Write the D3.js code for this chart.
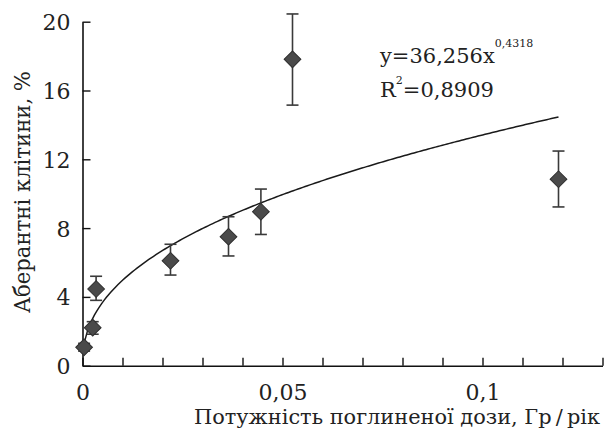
<!DOCTYPE html>
<html>
<head>
<meta charset="utf-8">
<script src="https://cdn.jsdelivr.net/npm/d3@7"></script>
<style>
  html, body { margin: 0; padding: 0; background: #fff; }
  svg { display: block; }
  text { font-family: "DejaVu Serif", "Liberation Serif", serif; fill: #222; }
</style>
</head>
<body>
<svg id="chart" width="604" height="434"></svg>
<script>
// Dose rate (Gy/year) and share of aberrant cells (%)
const doseRate  = [0.0004, 0.00255, 0.0034, 0.022, 0.0365, 0.0446, 0.0525, 0.119];
const aberrant  = [1.07, 2.21, 4.46, 6.10, 7.50, 8.95, 17.81, 10.84];
const errUpper  = [1.30, 2.56, 5.20, 7.06, 8.66, 10.27, 20.45, 12.48];
const errLower  = [0.85, 1.83, 3.80, 5.27, 6.38, 7.63, 15.15, 9.23];

// Power trendline y = a * x^b
const fitCoef = 36.256;
const fitExp = 0.4318;
const fitRange = [0.0006, 0.119];

const yTicks = [0, 4, 8, 12, 16, 20];
const xTickValues = d3.range(0, 0.1301, 0.01);
const xLabelled = [0, 0.05, 0.1];

const svg = d3.select("#chart");
const x = d3.scaleLinear().domain([0, 0.13]).range([82.5, 602.5]);
const y = d3.scaleLinear().domain([0, 20]).range([365.7, 21.7]);

const fmt = v => (v === 0 ? "0" : String(+v.toFixed(2)).replace(".", ","));

// X axis: inward ticks every 0.01, labels at 0, 0.05, 0.1
const xAxis = svg.append("g")
  .attr("transform", `translate(0,${y(0)})`)
  .call(d3.axisBottom(x).tickValues(xTickValues).tickSizeInner(-8).tickSizeOuter(0)
    .tickFormat(d => xLabelled.some(v => Math.abs(v - d) < 1e-9) ? fmt(d) : ""));
xAxis.select(".domain").attr("stroke", "#111").attr("stroke-width", 1.6);
xAxis.selectAll(".tick line").attr("stroke", "#111").attr("stroke-width", 1.4);
xAxis.selectAll(".tick text").attr("font-size", 22).attr("font-family", "DejaVu Serif")
  .attr("fill", "#222").attr("y", 34).attr("dy", 0);

// Y axis: inward ticks
const yAxis = svg.append("g")
  .attr("transform", `translate(${x(0)},0)`)
  .call(d3.axisLeft(y).tickValues(yTicks).tickSizeInner(-8).tickSizeOuter(0).tickFormat(d => d));
yAxis.select(".domain").attr("stroke", "#111").attr("stroke-width", 1.6);
yAxis.selectAll(".tick line").attr("stroke", "#111").attr("stroke-width", 1.4);
yAxis.selectAll(".tick text").attr("font-size", 22).attr("font-family", "DejaVu Serif")
  .attr("fill", "#222").attr("x", -12).attr("dy", "0.36em");

// Trendline
const fitX = d3.range(fitRange[0], fitRange[1] + 1e-9, (fitRange[1] - fitRange[0]) / 200);
svg.append("path")
  .datum(fitX)
  .attr("fill", "none")
  .attr("stroke", "#1a1a1a")
  .attr("stroke-width", 1.5)
  .attr("d", d3.line().x(d => x(d)).y(d => y(fitCoef * Math.pow(d, fitExp))));

// Error bars
const bars = svg.append("g").attr("stroke", "#3a3a3a").attr("stroke-width", 1.6);
doseRate.forEach((d, i) => {
  bars.append("line").attr("x1", x(d)).attr("x2", x(d)).attr("y1", y(errUpper[i])).attr("y2", y(errLower[i]));
  [errUpper[i], errLower[i]].forEach(v => {
    bars.append("line").attr("x1", x(d) - 6).attr("x2", x(d) + 6).attr("y1", y(v)).attr("y2", y(v));
  });
});

// Diamond markers
const diamond = d3.symbol().type(d3.symbolSquare).size(140);
svg.append("g").selectAll("path")
  .data(doseRate)
  .join("path")
  .attr("d", diamond)
  .attr("transform", (d, i) => `translate(${x(d)},${y(aberrant[i])}) rotate(45)`)
  .attr("fill", "#4a4a4a")
  .attr("stroke", "#2e2e2e")
  .attr("stroke-width", 1);

// Trendline equation
const eq = svg.append("text").attr("x", 380).attr("y", 63).attr("font-size", 21);
eq.append("tspan").text("y=36,256x");
eq.append("tspan").attr("font-size", 11).attr("dy", -16).text("0,4318");

const r2 = svg.append("text").attr("x", 380).attr("y", 97).attr("font-size", 21);
r2.append("tspan").text("R");
r2.append("tspan").attr("font-size", 11).attr("dy", -13).text("2");
r2.append("tspan").attr("dy", 13).text("=0,8909");

// Axis titles
svg.append("text")
  .attr("x", 194).attr("y", 424)
  .attr("font-size", 21)
  .attr("textLength", 406).attr("lengthAdjust", "spacingAndGlyphs")
  .text("Потужність поглиненої дози, Гр\u2009/\u2009рік");

svg.append("text")
  .attr("transform", "translate(30,313) rotate(-90)")
  .attr("font-size", 23)
  .attr("textLength", 242).attr("lengthAdjust", "spacingAndGlyphs")
  .text("Аберантні клітини, %");
</script>
</body>
</html>
